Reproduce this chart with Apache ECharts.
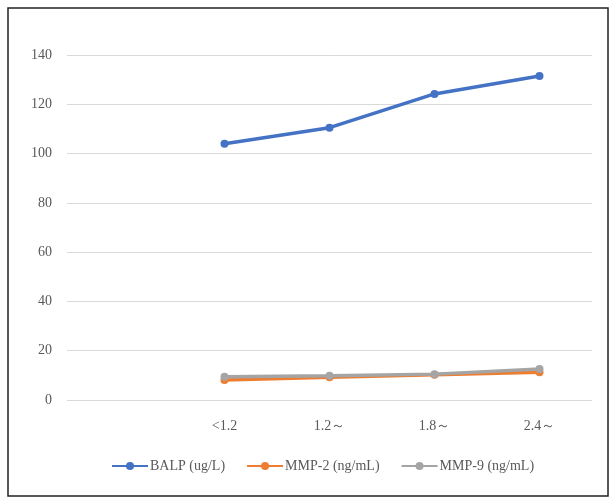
<!DOCTYPE html>
<html><head><meta charset="utf-8">
<script src="https://cdn.jsdelivr.net/npm/echarts@6/dist/echarts.min.js"></script>
<style>html,body{margin:0;padding:0;background:#fff}#c{width:615px;height:504px}</style>
</head><body><div id="c"></div>
<script>
const categories = ['', '<1.2', '1.2～', '1.8～', '2.4～'];
const balp = [null, 104, 110.5, 124.2, 131.5];
const mmp2 = [null, 8.1, 9.2, 10.2, 11.3];
const mmp9 = [null, 9.4, 9.8, 10.5, 12.6];
const seriesNames = ['BALP (ug/L)', 'MMP-2 (ng/mL)', 'MMP-9 (ng/mL)'];
const colors = ['#4472C4', '#ED7D31', '#A5A5A5'];
const font = '"Liberation Serif", "Times New Roman", serif';
const chart = echarts.init(document.getElementById('c'));
function s(name, data, color, z) {
  return {name, type: 'line', data, z, symbol: 'circle', symbolSize: 8,
    lineStyle: {width: 3.5, color}, itemStyle: {color}, connectNulls: false};
}
chart.setOption({
  animation: false,
  color: colors,
  textStyle: {fontFamily: font},
  graphic: [{type: 'rect', shape: {x: 8, y: 8, width: 600, height: 488},
    style: {fill: 'none', stroke: '#222', lineWidth: 1.5}}],
  grid: {left: 67, right: 23, top: 55, bottom: 104},
  legend: {bottom: 26, left: 106, itemWidth: 36, itemHeight: 10, itemGap: 21,
    textStyle: {fontFamily: font, fontSize: 14, color: '#595959', padding: [0, 0, 0, -3]},
    data: seriesNames},
  xAxis: {type: 'category', data: categories, boundaryGap: true,
    axisLine: {show: false}, axisTick: {show: false},
    axisLabel: {fontFamily: font, fontSize: 14, color: '#595959', margin: 19}},
  yAxis: {type: 'value', min: 0, max: 140, interval: 20,
    axisLine: {show: false}, axisTick: {show: false},
    splitLine: {lineStyle: {color: '#d9d9d9', width: 1}},
    axisLabel: {fontFamily: font, fontSize: 14, color: '#595959', margin: 15}},
  series: [s(seriesNames[0], balp, colors[0], 3), s(seriesNames[1], mmp2, colors[1], 2), s(seriesNames[2], mmp9, colors[2], 4)]
});
</script></body></html>
